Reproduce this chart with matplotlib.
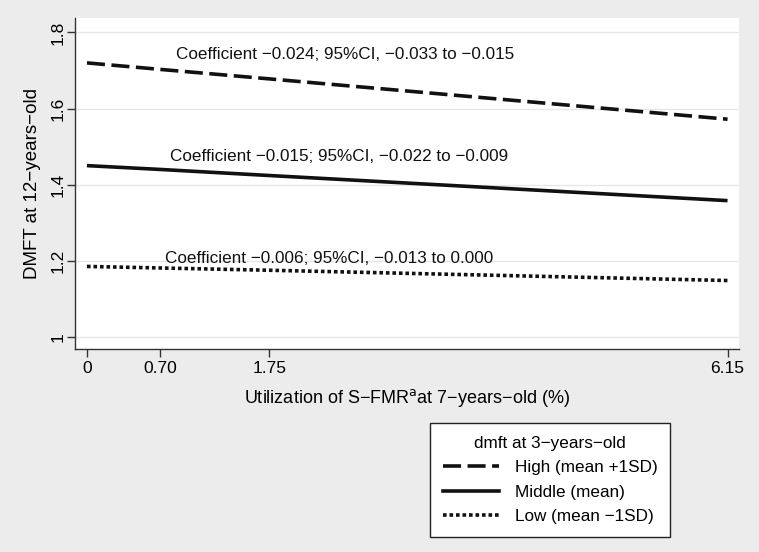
import matplotlib
matplotlib.use("Agg")
import matplotlib.pyplot as plt
from matplotlib.lines import Line2D

# values
x_util = [0, 0.70, 1.75, 6.15]
high = [1.720, 1.703, 1.678, 1.572]
middle = [1.450, 1.440, 1.424, 1.358]
low = [1.185, 1.181, 1.175, 1.148]
series_labels = ["High (mean +1SD)", "Middle (mean)", "Low (mean \u22121SD)"]
coef_text = [
    "Coefficient \u22120.024; 95%CI, \u22120.033 to \u22120.015",
    "Coefficient \u22120.015; 95%CI, \u22120.022 to \u22120.009",
    "Coefficient \u22120.006; 95%CI, \u22120.013 to 0.000",
]
coef_pos = [(0.85, 1.742), (0.80, 1.474), (0.75, 1.207)]
xticks = [0, 0.70, 1.75, 6.15]
xticklabels = ["0", "0.70", "1.75", "6.15"]
yticks = [1.0, 1.2, 1.4, 1.6, 1.8]
yticklabels = ["1", "1.2", "1.4", "1.6", "1.8"]

plt.rcParams["font.family"] = ["Liberation Sans", "DejaVu Sans"]

BG = "#ececec"
fig = plt.figure(figsize=(7.59, 5.52), dpi=100, facecolor=BG)
ax = fig.add_axes([75 / 759, 1 - 349 / 552, (739 - 75) / 759, (349 - 18) / 552])
ax.set_facecolor("white")

styles = [(0, (5, 1.8)), "-", (0, (1, 0.8))]
for ys, ls in zip([high, middle, low], styles):
    ax.plot(x_util, ys, color="#111111", linestyle=ls, linewidth=2.6,
            solid_capstyle="butt", dash_capstyle="butt")

for txt, (tx, ty) in zip(coef_text, coef_pos):
    ax.text(tx, ty, txt, fontsize=12.3, color="#111111", ha="left", va="center")

ax.set_xlim(-0.115, 6.26)
ax.set_ylim(0.968, 1.838)
ax.set_xticks(xticks)
ax.set_xticklabels(xticklabels, fontsize=12.5)
ax.set_yticks(yticks)
ax.set_yticklabels(yticklabels, fontsize=12.5, rotation=90, va="center")
ax.tick_params(direction="out", length=5.5, width=1, color="#333333", pad=3)
ax.tick_params(axis="y", pad=1.5)
ax.grid(axis="y", color="#e6e6e6", linewidth=0.9)
ax.set_axisbelow(True)
for side in ["top", "right"]:
    ax.spines[side].set_visible(False)
for side in ["left", "bottom"]:
    ax.spines[side].set_color("#333333")
    ax.spines[side].set_linewidth(1.0)

ax.set_xlabel("Utilization of S\u2212FMR$^{\\rm a}$at 7\u2212years\u2212old (%)",
              fontsize=13, labelpad=8)
ax.set_ylabel("DMFT at 12\u2212years\u2212old", fontsize=13.5, labelpad=7)

handles = [Line2D([], [], color="#111111", linestyle=ls, linewidth=2.6)
           for ls in styles]
leg = fig.legend(handles, series_labels, title="dmft at 3\u2212years\u2212old",
                 loc="upper left", bbox_to_anchor=(430 / 759, 1 - 423 / 552),
                 borderaxespad=0,
                 fontsize=12.3, title_fontsize=12.3, frameon=True, fancybox=False,
                 edgecolor="#222222", facecolor="white", framealpha=1,
                 handlelength=3.3, handletextpad=0.9, borderpad=0.75,
                 labelspacing=0.55)
leg.get_frame().set_linewidth(1.0)

fig.savefig("out.png", dpi=100, facecolor=BG)
